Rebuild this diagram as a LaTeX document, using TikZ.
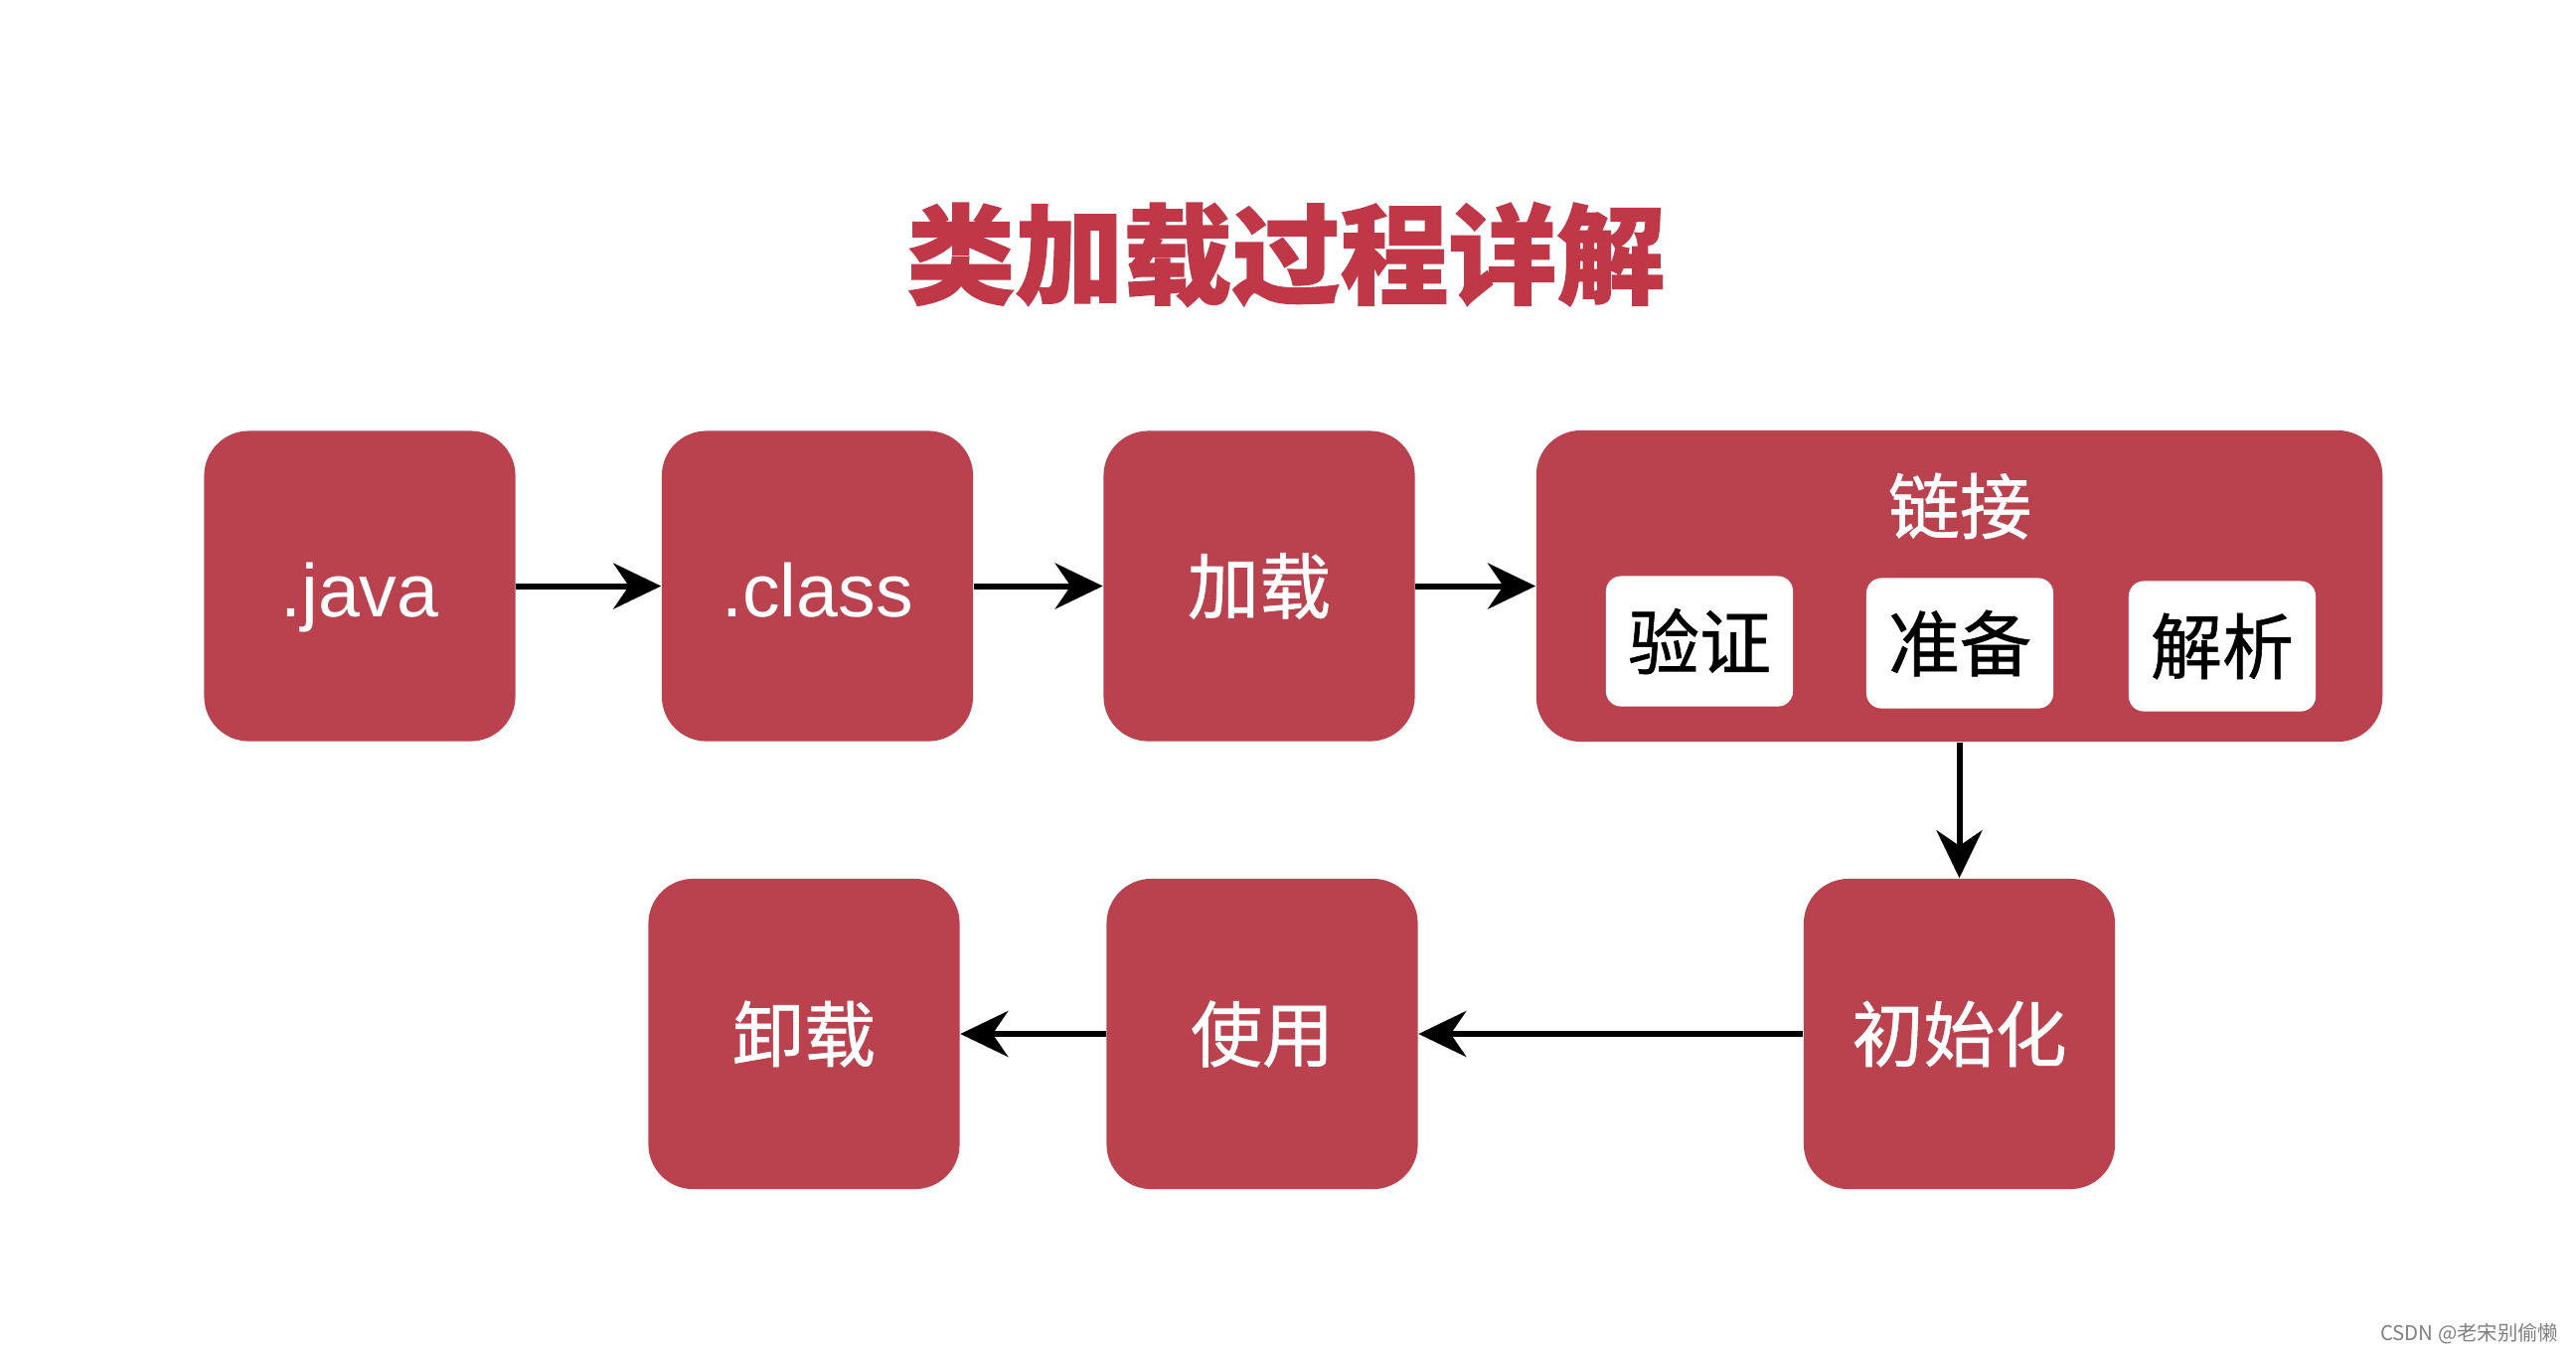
\documentclass[tikz,border=0pt]{standalone}
\usepackage{fontspec}
\setmainfont{Liberation Sans}
\newfontfamily\cjk{Noto Sans CJK SC}
\newfontfamily\cjkm[FakeBold=0.8]{Noto Sans CJK SC}
\newfontfamily\cjkt[BoldFeatures={FakeBold=1.2}]{Noto Sans CJK SC}
\usetikzlibrary{arrows.meta}
\definecolor{boxred}{HTML}{B9424E}
\definecolor{titlered}{HTML}{C03848}
\begin{document}
\begin{tikzpicture}[x=0.01cm,y=-0.01cm,
  box/.style={fill=boxred, rounded corners=0.45cm, minimum width=3.13cm, minimum height=3.12cm, text=white, font=\cjkm\fontsize{20.5}{24}\selectfont, inner sep=0pt},
  latinbox/.style={box, font=\fontsize{21.4}{26}\selectfont, text height=0.62cm, text depth=0pt},
  sub/.style={fill=white, rounded corners=0.15cm, minimum width=1.88cm, minimum height=1.31cm, text=black, font=\cjkm\fontsize{20.5}{24}\selectfont, inner sep=0pt},
  arr/.style={line width=1.7pt, -{Stealth[length=0.48cm,width=0.46cm]}}]
\useasboundingbox[fill=white] (0,0) rectangle (2592,1362);
\node[text=titlered, font=\cjkt\bfseries\fontsize{31}{36}\selectfont] (title) at (1294,256) {类加载过程详解};
\node[latinbox] (java) at (362,589.5) {.java};
\node[latinbox] (class) at (822.5,589.5) {.class};
\node[box] (load) at (1267,589.5) {加载};
\node[box, minimum width=8.51cm, minimum height=3.13cm] (link) at (1971.5,589.5) {};
\node[text=white, font=\cjkm\fontsize{20.5}{24}\selectfont] (linklabel) at (1972,509) {链接};
\node[sub] (verify) at (1710,645) {验证};
\node[sub] (prepare) at (1972,647) {准备};
\node[sub] (resolve) at (2236,650) {解析};
\node[box] (init) at (1971.5,1040) {初始化};
\node[box] (use) at (1270,1040) {使用};
\node[box] (unload) at (809,1040) {卸载};
\draw[arr] (java) -- (class);
\draw[arr] (class) -- (load);
\draw[arr] (load) -- (link);
\draw[arr] (link) -- (init);
\draw[arr] (init) -- (use);
\draw[arr] (use) -- (unload);
\node[anchor=east, inner sep=0pt, text=black!50, font=\cjk\fontsize{5.8}{7}\selectfont] (mark) at (2575,1342) {CSDN @老宋别偷懒};
\end{tikzpicture}
\end{document}
